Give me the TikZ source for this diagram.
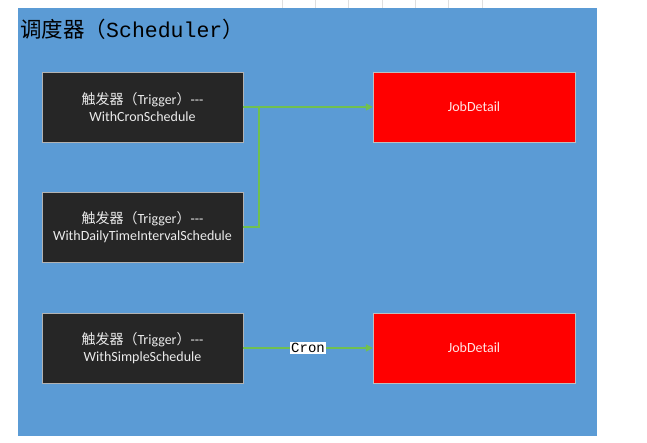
\documentclass[tikz,border=0pt]{standalone}
\usepackage{fontspec}
\setmainfont{Carlito}
\setmonofont{Liberation Mono}
\newfontfamily\cjk{Noto Sans CJK SC}
\usepackage{tikz}
\usetikzlibrary{positioning, arrows.meta}

\definecolor{bgblue}{HTML}{5B9BD5}
\definecolor{trigdark}{HTML}{262626}
\definecolor{conngreen}{HTML}{70C050}

\begin{document}
\begin{tikzpicture}[x=1pt, y=-1pt,
  trig/.style={rectangle, draw=gray!60, fill=trigdark, text=white!92!black, minimum width=201pt, minimum height=70pt, inner sep=0pt, align=center, font=\fontsize{14}{17.5}\selectfont},
  job/.style={rectangle, draw=gray!50, fill=red, text=white!90!red, minimum width=202pt, minimum height=70pt, inner sep=0pt, font=\fontsize{14}{15}\selectfont},
  conn/.style={-{Triangle[length=7pt, width=7pt]}, line width=1.5pt, draw=conngreen},
  lab/.style={fill=white, inner sep=1.2pt, font=\ttfamily\fontsize{14}{15}\selectfont}
]
  \useasboundingbox (0,0) rectangle (647,443);
  % sheet grid peeking out at the top
  \foreach \gx in {282,315,348,382,415,448,482}
    \draw[gray!25] (\gx,0) -- (\gx,8);
  \draw[gray!25] (282,8) -- (482,8);
  % scheduler area
  \fill[bgblue] (18,8) rectangle (597,436);
  \node[anchor=west, inner sep=0pt, font=\fontsize{21.5}{22}\selectfont] (title) at (20,29)
    {{\cjk 调度器（}\texttt{Scheduler}{\cjk ）}};

  \node[trig] (t1) at (142.5,107) {{\cjk 触发器（}Trigger{\cjk ）}{-}{-}{-}\\WithCronSchedule};
  \node[trig] (t2) at (142.5,227) {{\cjk 触发器（}Trigger{\cjk ）}{-}{-}{-}\\WithDailyTimeIntervalSchedule};
  \node[trig] (t3) at (142.5,348) {{\cjk 触发器（}Trigger{\cjk ）}{-}{-}{-}\\WithSimpleSchedule};

  \node[job] (j1) at (474,107) {JobDetail};
  \node[job] (j2) at (474,348) {JobDetail};

  \coordinate (bend) at (259,107);
  \draw[conn] (t1) -- (j1);
  \draw[conn, -] (t2.east) -| (bend);
  \draw[conn] (t3) -- node[lab] (cron) {Cron} (j2);
\end{tikzpicture}
\end{document}
